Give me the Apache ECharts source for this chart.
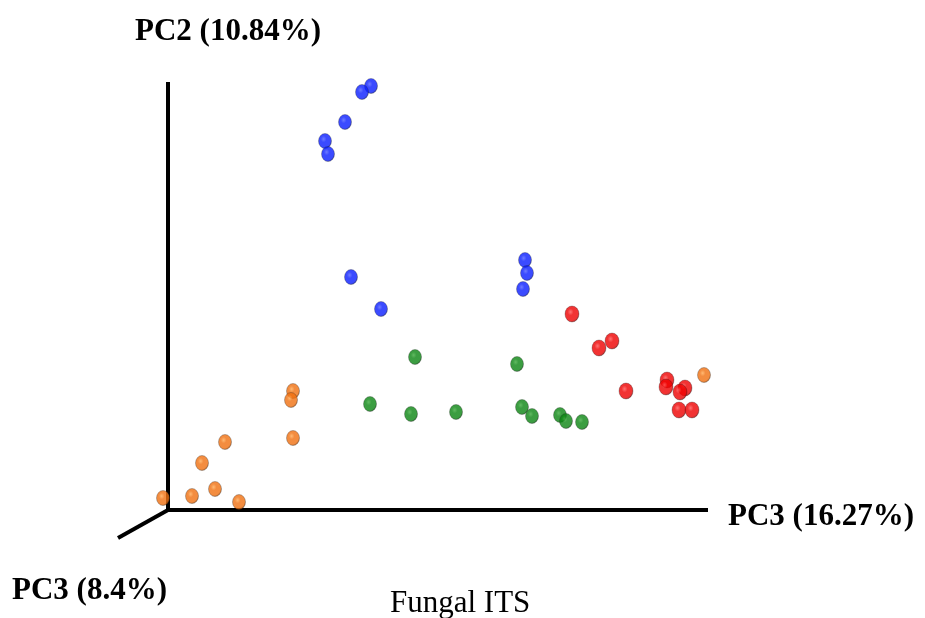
<!DOCTYPE html>
<html>
<head>
<meta charset="utf-8">
<script src="https://cdn.jsdelivr.net/npm/echarts@6/dist/echarts.min.js"></script>
<style>html,body{margin:0;padding:0;background:#fff;}#c{width:925px;height:618px;}</style>
</head>
<body>
<div id="c"></div>
<script>
// Group scores (x = PC3 16.27% direction, y = PC2 10.84% direction), arbitrary units
const blueGroup = [[2.03,4.24],[1.94,4.18],[1.77,3.88],[1.57,3.69],[1.60,3.56],[1.83,2.33],[2.13,2.01],[3.57,2.50],[3.59,2.37],[3.55,2.21]];
const redGroup = [[4.04,1.96],[4.31,1.62],[4.44,1.69],[4.58,1.19],[4.99,1.30],[4.98,1.23],[5.17,1.22],[5.12,1.18],[5.11,1.00],[5.24,1.00]];
const greenGroup = [[2.47,1.53],[3.49,1.46],[2.02,1.06],[2.43,0.96],[2.88,0.98],[3.54,1.03],[3.64,0.94],[3.92,0.95],[3.98,0.89],[4.14,0.88]];
const orangeGroup = [[1.25,1.19],[1.23,1.10],[1.25,0.72],[0.57,0.68],[0.34,0.47],[0.47,0.21],[0.24,0.14],[-0.05,0.12],[0.71,0.08],[5.36,1.35]];
// pseudo-3D axis segments
const axisVertical = [[0,0],[0,4.28]];
const axisHorizontal = [[0,0],[5.4,0]];
const axisDepth = [[0,0],[-0.5,-0.28]];
const labelVertical = 'PC2 (10.84%)';
const labelHorizontal = 'PC3 (16.27%)';
const labelDepth = 'PC3 (8.4%)';
const captionText = 'Fungal ITS';

function sphere(light, base, dark){
  return {type:'radial', x:0.4, y:0.38, r:0.68, colorStops:[
    {offset:0, color:light},{offset:0.3, color:base},{offset:0.75, color:base},{offset:1, color:dark}]};
}
function axisSeries(d){
  return {type:'line', data:d, symbol:'none', silent:true, z:1,
    lineStyle:{color:'#000', width:4}, animation:false};
}
function pts(d, col, size){
  return {type:'scatter', data:d, symbolSize:size, z:3, animation:false,
    itemStyle:{color:col, borderColor:'rgba(30,30,30,0.45)', borderWidth:0.8}};
}
const chart = echarts.init(document.getElementById('c'));
const serif = '"Liberation Serif","Times New Roman",serif';
chart.setOption({
  backgroundColor:'#fff',
  animation:false,
  grid:{left:118, top:82, width:590, height:456},
  xAxis:{type:'value', min:-0.5, max:5.4, show:false},
  yAxis:{type:'value', min:-0.28, max:4.28, show:false},
  title:[
    {text:labelVertical, left:135, top:16, padding:0, textStyle:{fontFamily:serif, fontSize:31, fontWeight:'bold', color:'#000'}},
    {text:labelHorizontal, left:728, top:501, padding:0, textStyle:{fontFamily:serif, fontSize:31, fontWeight:'bold', color:'#000'}},
    {text:labelDepth, left:12, top:575, padding:0, textStyle:{fontFamily:serif, fontSize:31, fontWeight:'bold', color:'#000'}},
    {text:captionText, left:390, top:588, padding:0, textStyle:{fontFamily:serif, fontSize:31, fontWeight:'normal', color:'#000'}}
  ],
  series:[
    axisSeries(axisVertical), axisSeries(axisHorizontal), axisSeries(axisDepth),
    pts(orangeGroup, sphere('#ffa850','#f07010','#8a3a00'), [13,15]),
    pts(greenGroup, sphere('#3aa83a','#0b8512','#013d04'), [13,15]),
    pts(blueGroup, sphere('#4a5aff','#0a1eff','#000a80'), [13,15]),
    pts(redGroup, sphere('#ff5050','#ee0000','#700000'), [14,16])
  ]
});
</script>
</body>
</html>
